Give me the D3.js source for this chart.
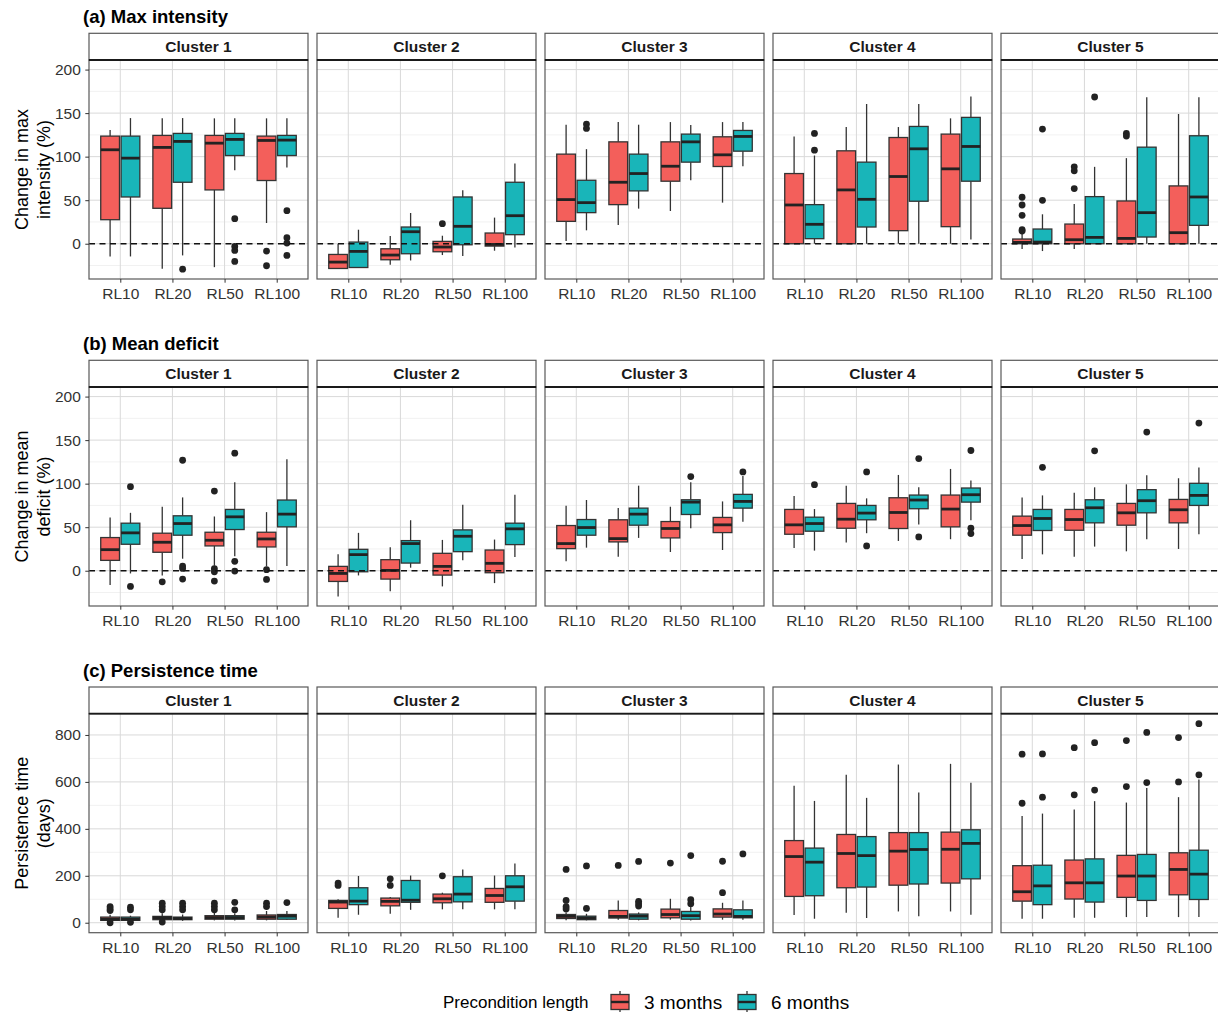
<!DOCTYPE html>
<html>
<head>
<meta charset="utf-8">
<script src="https://cdnjs.cloudflare.com/ajax/libs/d3/7.8.5/d3.min.js"></script>
<style>
  body { margin: 0; background: #fff; }
  svg { display: block; font-family: "Liberation Sans", Arial, sans-serif; }
</style>
</head>
<body>
<div id="chart"></div>
<script>
// Categories
const clusters = ["Cluster 1", "Cluster 2", "Cluster 3", "Cluster 4", "Cluster 5"];
const returnLevels = ["RL10", "RL20", "RL50", "RL100"];
const preconditions = ["3 months", "6 months"];

// Box stats per cluster, per return level: [lower whisker, Q1, median, Q3, upper whisker]
const intensity3 = [
  [[-14.6, 27.6, 107.9, 123.6, 130.5], [-28.8, 40.7, 110.6, 124.4, 144], [-26.9, 61.8, 115.5, 124.4, 144], [23.8, 72.6, 118.6, 123.6, 144]],
  [[-28.4, -28.4, -21.1, -12.3, 0], [-24.2, -18.4, -13, -5.8, 8.8], [-13, -9.2, -3.8, 2.7, 9.2], [-8, -2.7, -0.8, 12.3, 30]],
  [[3.1, 25.7, 50.7, 102.9, 136.7], [21.5, 44.9, 70.6, 117, 139.7], [37.6, 71.8, 89, 117, 139.7], [47.2, 88.7, 102.1, 122.8, 139.7]],
  [[0, 0, 44.5, 80.6, 123.2], [0, 0, 61.8, 106.7, 134], [0, 15, 77.2, 122, 134], [0, 19.6, 86, 125.9, 144]],
  [[-6.1, 0, 1.5, 5.4, 11.5], [-6.1, 0, 4.6, 22.6, 45.7], [0, 0, 6.1, 49.1, 98.3], [0, 0, 12.7, 66.4, 149]]
];
const intensity3Out = [
  [[], [], [], [-8.4, -25.3]],
  [[], [], [23], []],
  [[], [], [], []],
  [[], [], [], []],
  [[53.4, 44.5, 32.6, 16.1, 14.6], [88.3, 83.7, 63.3], [126.7, 123.6], []]
];
const intensity6 = [
  [[-14.6, 53.7, 98.3, 123.6, 144.3], [-13.4, 70.6, 117.5, 126.7, 144.3], [84.5, 101.3, 119.8, 126.7, 144], [87.5, 101.3, 119, 124.4, 144]],
  [[-27.3, -27.3, -8.8, 1.9, 16.1], [-19.2, -11.5, 13.8, 19.2, 35.3], [-14.2, -1.2, 20, 53.7, 61.4], [-4.2, 10.4, 32.2, 70.6, 92]],
  [[15.4, 35.7, 47.2, 72.9, 108.6], [40.3, 60.7, 80.6, 102.9, 136.7], [72.9, 93.7, 117, 125.9, 136.3], [89, 106.3, 123.2, 130.1, 139.7]],
  [[0, 5.8, 22.3, 44.9, 101.3], [0, 19.2, 51, 93.7, 160.5], [0, 48.8, 109, 134.7, 160.5], [5, 71.8, 111.7, 145.1, 169]],
  [[-8.4, 0, 1.9, 16.9, 33.8], [0, 0, 7.3, 54.1, 88.3], [0, 7.7, 35.7, 110.9, 168.1], [0, 21.1, 53.7, 124, 168.1]]
];
const intensity6Out = [
  [[], [-29.2], [28.8, -3.1, -7.7, -20.3], [38, 6.9, 0.8, -13.4]],
  [[], [], [], []],
  [[137.4, 132.4], [], [], []],
  [[126.7, 107.5], [], [], []],
  [[131.7, 49.9], [168.5], [], []]
];

const deficit3 = [
  [[-16.5, 11.9, 24.2, 38.1, 61.2], [-5.4, 21.2, 32.7, 43.1, 73.5], [5.8, 28.5, 35, 44.2, 62.3], [5, 27.3, 36.5, 44.2, 67.3]],
  [[-29.6, -12.3, -3.1, 5, 18.8], [-23.5, -9.6, 0.4, 12.7, 26.9], [-18, -5, 5, 20, 35.4], [-14.2, -2.3, 8.5, 23.8, 35.8]],
  [[10.8, 25.4, 31.2, 51.9, 74.6], [16.2, 33.1, 36.9, 58.5, 71.9], [21.5, 37.7, 48.5, 56.5, 73.5], [23.8, 43.8, 52.7, 61.2, 79.6]],
  [[26.2, 41.9, 52.7, 70.4, 85.8], [32.3, 48.8, 59.2, 77.3, 97.7], [34.2, 48.5, 66.9, 83.8, 110], [36.2, 50.4, 70.8, 86.9, 116.9]],
  [[13.5, 40.8, 51.9, 62.7, 84.2], [16.2, 46.5, 58.8, 70.4, 89.6], [22.3, 52.3, 66.5, 77.3, 99.2], [25, 55, 70, 81.9, 106.2]]
];
const deficit3Out = [
  [[], [-12.7], [91.5, 2.3, -1.2, -11.9], [1.2, -10]],
  [[], [], [], []],
  [[], [], [], []],
  [[], [], [], []],
  [[], [], [], []]
];
const deficit6 = [
  [[-3.1, 30.4, 43.5, 54.6, 66.5], [13.8, 40.8, 54.2, 63.1, 84.2], [16.5, 47.3, 61.9, 70.4, 101.5], [5.4, 50.4, 65, 81.2, 128]],
  [[-5.4, -1.2, 18.5, 24.6, 43.5], [3.5, 8.8, 31.2, 34.6, 58], [11.9, 21.9, 39.6, 46.9, 75.8], [15.8, 30, 48.1, 54.6, 87.3]],
  [[26.5, 40.8, 49.6, 58.8, 81.2], [37.7, 52.3, 65, 71.9, 97.7], [48.8, 64.6, 78.8, 81.5, 101.5], [56.2, 71.9, 79.6, 87.7, 108.8]],
  [[23.1, 45.4, 54.2, 61.5, 70.8], [43.1, 58.5, 66.2, 75, 83.1], [53.1, 71.2, 81.2, 86.9, 95.8], [58.1, 78.8, 87.3, 95, 103.5]],
  [[18.8, 46.2, 60, 70.4, 86.5], [27.7, 55, 72.3, 81.5, 95.8], [36.2, 66.5, 80.4, 93.1, 109.6], [41.9, 75, 86.5, 100.4, 118.5]]
];
const deficit6Out = [
  [[96.5, -18], [126.9, 5.4, 2.7, -9.6], [135, 10.8, -0.4], []],
  [[], [], [], []],
  [[], [], [108.1], [113.5]],
  [[98.8], [113.5, 28.5], [128.8, 38.8], [138.1, 48.8, 42.7]],
  [[118.8], [137.7], [159.2], [169.6]]
];

const persist3 = [
  [[2, 10, 15, 24, 34], [8, 13, 21, 27, 40], [10, 15, 22, 30, 45], [10, 15, 24, 33, 50]],
  [[21, 61, 88, 95, 100], [38, 72, 91, 105, 110], [57, 85, 102, 122, 128], [57, 87, 116, 146, 201]],
  [[11, 18, 27, 35, 45], [13, 20, 27, 52, 95], [13, 21, 35, 58, 102], [13, 24, 37, 59, 85]],
  [[33, 112, 282, 350, 584], [43, 149, 295, 376, 631], [48, 160, 305, 384, 674], [48, 169, 313, 386, 677]],
  [[17, 92, 132, 243, 455], [21, 101, 170, 267, 482], [24, 108, 199, 287, 512], [24, 119, 227, 298, 535]]
];
const persist3Out = [
  [[69, 60, 52, 0], [83, 69, 55, 3], [83, 69, 55], [83, 69]],
  [[169, 159], [187, 159], [200], []],
  [[227, 95, 69, 59], [244], [254], [262, 128]],
  [[], [], [], []],
  [[718, 509], [746, 545], [776, 580], [789, 600]]
];
const persist6 = [
  [[2, 10, 15, 24, 30], [8, 13, 18, 24, 35], [10, 15, 22, 30, 40], [12, 15, 28, 35, 50]],
  [[34, 77, 92, 149, 199], [55, 87, 96, 180, 201], [57, 89, 122, 196, 227], [57, 92, 153, 200, 252]],
  [[10, 13, 20, 28, 38], [10, 15, 28, 37, 44], [10, 15, 30, 48, 68], [13, 21, 27, 55, 95]],
  [[17, 115, 258, 318, 519], [20, 152, 286, 367, 532], [28, 165, 312, 384, 555], [34, 187, 338, 396, 596]],
  [[17, 77, 157, 245, 465], [21, 88, 170, 272, 518], [24, 95, 199, 291, 574], [24, 99, 207, 309, 610]]
];
const persist6Out = [
  [[66, 55, 2], [83, 69, 55], [87, 55], [86]],
  [[], [], [], []],
  [[242, 61], [261, 91, 81, 71], [286, 98, 81], [293]],
  [[], [], [], []],
  [[719, 535], [767, 565], [811, 597], [848, 630]]
];

// Rows of the figure
const rows = [
  { title: "(a) Max intensity", yLabel: ["Change in max", "intensity (%)"],
    stats: [intensity3, intensity6], outliers: [intensity3Out, intensity6Out],
    domain: [-40.5, 211], ticks: [0, 50, 100, 150, 200], minor: [-25, 25, 75, 125, 175], zeroLine: true, top: 33.3 },
  { title: "(b) Mean deficit", yLabel: ["Change in mean", "deficit (%)"],
    stats: [deficit3, deficit6], outliers: [deficit3Out, deficit6Out],
    domain: [-40.5, 211], ticks: [0, 50, 100, 150, 200], minor: [-25, 25, 75, 125, 175], zeroLine: true, top: 360.3 },
  { title: "(c) Persistence time", yLabel: ["Persistence time", "(days)"],
    stats: [persist3, persist6], outliers: [persist3Out, persist6Out],
    domain: [-42.5, 890.6], ticks: [0, 200, 400, 600, 800], minor: [100, 300, 500, 700], zeroLine: false, top: 687 }
];

// Layout
const W = 1218, H = 1012;
const panelLeft = 89, panelStep = 228, panelW = 219;
const stripH = 26.7, panelH = 219;
const colors = d3.scaleOrdinal().domain(preconditions).range(["#F35F5B", "#19B5B9"]);
const ink = "#333333";

const svg = d3.select("#chart").append("svg")
    .attr("width", W)
    .attr("height", H);

const x = d3.scalePoint()
    .domain(returnLevels)
    .range([0, panelW])
    .padding(0.6);

const dodge = d3.scaleBand()
    .domain(preconditions)
    .range([-0.375 * x.step(), 0.375 * x.step()])
    .paddingInner(0.08);

rows.forEach(row => {
    const panelTop = row.top + stripH;
    const y = d3.scaleLinear()
        .domain(row.domain)
        .range([panelTop + panelH, panelTop]);

    // Row title
    svg.append("text")
        .attr("x", 83)
        .attr("y", row.top - 10)
        .attr("font-size", 18.5)
        .attr("font-weight", "bold")
        .attr("fill", "#000")
        .text(row.title);

    // Y axis title
    const midY = panelTop + panelH / 2;
    row.yLabel.forEach((line, i) => {
        svg.append("text")
            .attr("transform", `translate(${28 + i * 21.5},${midY}) rotate(-90)`)
            .attr("text-anchor", "middle")
            .attr("font-size", 18)
            .attr("fill", "#000")
            .text(line);
    });

    clusters.forEach((cluster, ci) => {
        const px = panelLeft + ci * panelStep;
        const g = svg.append("g").attr("transform", `translate(${px},0)`);

        // Grid
        g.selectAll("line.minor")
            .data(row.minor)
            .enter().append("line")
            .attr("x1", 0).attr("x2", panelW)
            .attr("y1", d => y(d)).attr("y2", d => y(d))
            .attr("stroke", "#ededed").attr("stroke-width", 0.8);
        g.selectAll("line.major")
            .data(row.ticks)
            .enter().append("line")
            .attr("x1", 0).attr("x2", panelW)
            .attr("y1", d => y(d)).attr("y2", d => y(d))
            .attr("stroke", "#d9d9d9").attr("stroke-width", 1);
        g.selectAll("line.vgrid")
            .data(returnLevels)
            .enter().append("line")
            .attr("x1", d => x(d)).attr("x2", d => x(d))
            .attr("y1", panelTop).attr("y2", panelTop + panelH)
            .attr("stroke", "#d9d9d9").attr("stroke-width", 1);

        // Boxes
        preconditions.forEach((pc, k) => {
            const stats = row.stats[k][ci];
            const outs = row.outliers[k][ci];
            returnLevels.forEach((rl, ri) => {
                const [lo, q1, med, q3, hi] = stats[ri];
                const bx = x(rl) + dodge(pc);
                const bw = dodge.bandwidth();
                const cx = bx + bw / 2;
                const b = g.append("g");
                b.append("line")
                    .attr("x1", cx).attr("x2", cx)
                    .attr("y1", y(hi)).attr("y2", y(q3))
                    .attr("stroke", ink).attr("stroke-width", 1.3);
                b.append("line")
                    .attr("x1", cx).attr("x2", cx)
                    .attr("y1", y(q1)).attr("y2", y(lo))
                    .attr("stroke", ink).attr("stroke-width", 1.3);
                b.append("rect")
                    .attr("x", bx).attr("width", bw)
                    .attr("y", y(q3)).attr("height", Math.max(0.5, y(q1) - y(q3)))
                    .attr("fill", colors(pc))
                    .attr("stroke", ink).attr("stroke-width", 1.3);
                b.append("line")
                    .attr("x1", bx).attr("x2", bx + bw)
                    .attr("y1", y(med)).attr("y2", y(med))
                    .attr("stroke", "#222").attr("stroke-width", 2.8);
                b.selectAll("circle")
                    .data(outs[ri])
                    .enter().append("circle")
                    .attr("cx", cx)
                    .attr("cy", d => y(d))
                    .attr("r", 3.4)
                    .attr("fill", "#222");
            });
        });

        // Zero reference line
        if (row.zeroLine) {
            g.append("line")
                .attr("x1", 0).attr("x2", panelW)
                .attr("y1", y(0)).attr("y2", y(0))
                .attr("stroke", "#111").attr("stroke-width", 1.5)
                .attr("stroke-dasharray", "6,4.5");
        }

        // Panel border
        g.append("rect")
            .attr("x", 0).attr("y", panelTop)
            .attr("width", panelW).attr("height", panelH)
            .attr("fill", "none").attr("stroke", "#595959").attr("stroke-width", 1.2);

        // Strip
        g.append("rect")
            .attr("x", 0).attr("y", row.top)
            .attr("width", panelW).attr("height", stripH)
            .attr("fill", "#fff").attr("stroke", "#595959").attr("stroke-width", 1.2);
        g.append("line")
            .attr("x1", 0).attr("x2", panelW)
            .attr("y1", panelTop).attr("y2", panelTop)
            .attr("stroke", "#1a1a1a").attr("stroke-width", 1.8);
        g.append("text")
            .attr("x", panelW / 2)
            .attr("y", row.top + stripH / 2 + 5.5)
            .attr("text-anchor", "middle")
            .attr("font-size", 15.5)
            .attr("font-weight", "bold")
            .attr("fill", "#1a1a1a")
            .text(cluster);

        // X axis
        const xa = g.append("g")
            .attr("transform", `translate(0,${panelTop + panelH})`)
            .call(d3.axisBottom(x).tickSize(3.7).tickPadding(5.5));
        xa.select(".domain").remove();
        xa.selectAll("line").attr("stroke", ink);
        xa.selectAll("text")
            .attr("font-size", 15.5)
            .attr("font-family", "Liberation Sans, Arial, sans-serif")
            .attr("fill", ink);

        // Y axis on the first panel only
        if (ci === 0) {
            const ya = g.append("g")
                .call(d3.axisLeft(y).tickValues(row.ticks).tickSize(3.7).tickPadding(4.5));
            ya.select(".domain").remove();
            ya.selectAll("line").attr("stroke", ink);
            ya.selectAll("text")
                .attr("font-size", 15.5)
                .attr("font-family", "Liberation Sans, Arial, sans-serif")
                .attr("fill", ink);
        }
    });
});

// Legend
const legend = svg.append("g").attr("transform", "translate(443,1002)");
legend.append("text")
    .attr("x", 0).attr("y", 6)
    .attr("font-size", 17)
    .attr("fill", "#000")
    .text("Precondition length");

const legendX = [168, 295];
preconditions.forEach((pc, i) => {
    const lg = legend.append("g").attr("transform", `translate(${legendX[i]},0)`);
    lg.append("line")
        .attr("x1", 9).attr("x2", 9)
        .attr("y1", -11).attr("y2", 11)
        .attr("stroke", ink).attr("stroke-width", 1.3);
    lg.append("rect")
        .attr("x", 0).attr("y", -7.5)
        .attr("width", 18).attr("height", 15)
        .attr("fill", colors(pc))
        .attr("stroke", ink).attr("stroke-width", 1.3);
    lg.append("line")
        .attr("x1", 0).attr("x2", 18)
        .attr("y1", 0).attr("y2", 0)
        .attr("stroke", "#222").attr("stroke-width", 2.4);
    lg.append("text")
        .attr("x", 33).attr("y", 6.5)
        .attr("font-size", 19)
        .attr("fill", "#000")
        .text(pc);
});
</script>
</body>
</html>
